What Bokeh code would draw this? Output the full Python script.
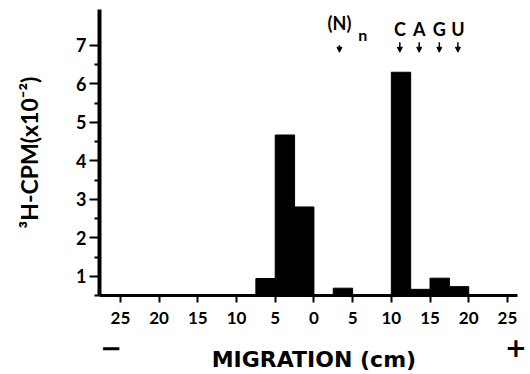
import math
from bokeh.plotting import figure
from bokeh.models import (ColumnDataSource, FixedTicker, Arrow, NormalHead, Range1d,
                          LinearAxis, Title)
from bokeh.core.properties import value
from bokeh.embed import file_html
from bokeh.resources import INLINE

# ---- data ----
bin_left = [-7.5, -5.0, -2.5, 2.5, 10.0, 12.5, 15.0, 17.5]
bin_right = [-5.0, -2.5, 0.0, 5.0, 12.5, 15.0, 17.5, 20.0]
cpm = [0.94, 4.67, 2.80, 0.69, 6.30, 0.66, 0.95, 0.73]   # 3H-CPM x 10^-2
baseline = 0.5

x_ticks = [-25, -20, -15, -10, -5, 0, 5, 10, 15, 20, 25]
x_tick_labels = ["25", "20", "15", "10", "5", "0", "5", "10", "15", "20", "25"]
y_ticks = [1, 2, 3, 4, 5, 6, 7]
y_minor = [0.5, 1.5, 2.5, 3.5, 4.5, 5.5, 6.5]

pole_pos = [-26.2, 26.1]
pole_labels = ["−", "+"]
x_title = "MIGRATION (cm)"
y_title = "³H-CPM(x10⁻²)"

marker_names = ["C", "A", "G", "U"]
marker_pos = [11.1, 13.6, 16.2, 18.6]
oligo_name = "(N)"
oligo_sub = "n"
oligo_pos = 3.3

FONT = "Lato"

p = figure(width=530, height=374, output_backend="svg", toolbar_location=None,
           x_range=Range1d(-27.7, 26.3), y_range=Range1d(baseline, 7.93),
           min_border_left=99, min_border_right=13, min_border_top=9, min_border_bottom=78)
p.outline_line_color = None
p.xgrid.visible = False
p.ygrid.visible = False

src = ColumnDataSource(dict(left=bin_left, right=bin_right, top=cpm,
                            bottom=[baseline] * len(cpm)))
p.quad(left="left", right="right", top="top", bottom="bottom", source=src,
       fill_color="black", line_color="black", line_width=1)

# axes
xa = p.xaxis[0]
xa.ticker = FixedTicker(ticks=x_ticks)
xa.major_label_overrides = {t: l for t, l in zip(x_ticks, x_tick_labels)}
xa.axis_line_width = 3
xa.axis_line_color = "black"
xa.major_tick_line_width = 2
xa.major_tick_line_color = "black"
xa.major_tick_out = 7
xa.major_tick_in = 0
xa.minor_tick_out = 0
xa.minor_tick_in = 0
xa.major_label_text_font = FONT
xa.major_label_text_font_style = "bold"
xa.major_label_text_font_size = "17px"
xa.major_label_text_color = "black"
xa.major_label_standoff = 9

def bare_axis(ticks, labels, font, size, standoff):
    ax = LinearAxis(ticker=FixedTicker(ticks=ticks),
                    major_label_overrides={t: l for t, l in zip(ticks, labels)})
    ax.axis_line_color = None
    ax.major_tick_line_color = None
    ax.minor_tick_line_color = None
    ax.major_tick_out = 0
    ax.major_tick_in = 0
    ax.minor_tick_out = 0
    ax.minor_tick_in = 0
    ax.major_label_text_font = font
    ax.major_label_text_font_style = "bold"
    ax.major_label_text_font_size = size
    ax.major_label_text_color = "black"
    ax.major_label_standoff = standoff
    return ax

# axis title row, then pole signs pulled back up beside it
p.add_layout(bare_axis([0], [x_title], "DejaVu Sans", "22px", 20), "below")
p.add_layout(bare_axis(pole_pos, pole_labels, "DejaVu Sans", "26px", -38), "below")

ya = p.yaxis[0]
ya.ticker = FixedTicker(ticks=y_ticks, minor_ticks=y_minor)
ya.axis_line_width = 4
ya.axis_line_color = "black"
ya.major_tick_line_width = 2
ya.minor_tick_line_width = 2
ya.major_tick_line_color = "black"
ya.minor_tick_line_color = "black"
ya.major_tick_out = 10
ya.major_tick_in = 0
ya.minor_tick_out = 5
ya.minor_tick_in = 0
ya.major_label_text_font = FONT
ya.major_label_text_font_style = "bold"
ya.major_label_text_font_size = "18px"
ya.major_label_text_color = "black"
ya.major_label_standoff = 3

# spacer + y axis title (rotated)
p.add_layout(Title(text=" ", text_font_size="12px"), "left")
p.add_layout(Title(text=y_title, align="center", offset=-13,
                   text_font=FONT, text_font_style="bold", text_font_size="23px",
                   text_color="black"), "left")

# nucleotide markers
p.text(x=marker_pos, y=[7.42] * len(marker_pos), text=marker_names,
       text_align="center", text_baseline="middle",
       text_font=value(FONT), text_font_style="bold", text_font_size="18px", text_color="black")
p.text(x=[oligo_pos], y=[7.59], text=[oligo_name], text_align="center", text_baseline="middle",
       text_font=value(FONT), text_font_style="bold", text_font_size="18px", text_color="black")
p.text(x=[oligo_pos + 3.0], y=[7.29], text=[oligo_sub], text_align="center", text_baseline="middle",
       text_font=value(FONT), text_font_style="bold", text_font_size="16px", text_color="black")

arr_src = ColumnDataSource(dict(x0=marker_pos + [oligo_pos],
                                y0=[7.08] * len(marker_pos) + [7.0],
                                x1=marker_pos + [oligo_pos],
                                y1=[6.82] * (len(marker_pos) + 1)))
p.add_layout(Arrow(end=NormalHead(size=5, fill_color="black", line_color="black"),
                   x_start="x0", y_start="y0", x_end="x1", y_end="y1", source=arr_src,
                   line_width=1.5, line_color="black"))

open("out.html", "w").write(file_html(p, INLINE))
